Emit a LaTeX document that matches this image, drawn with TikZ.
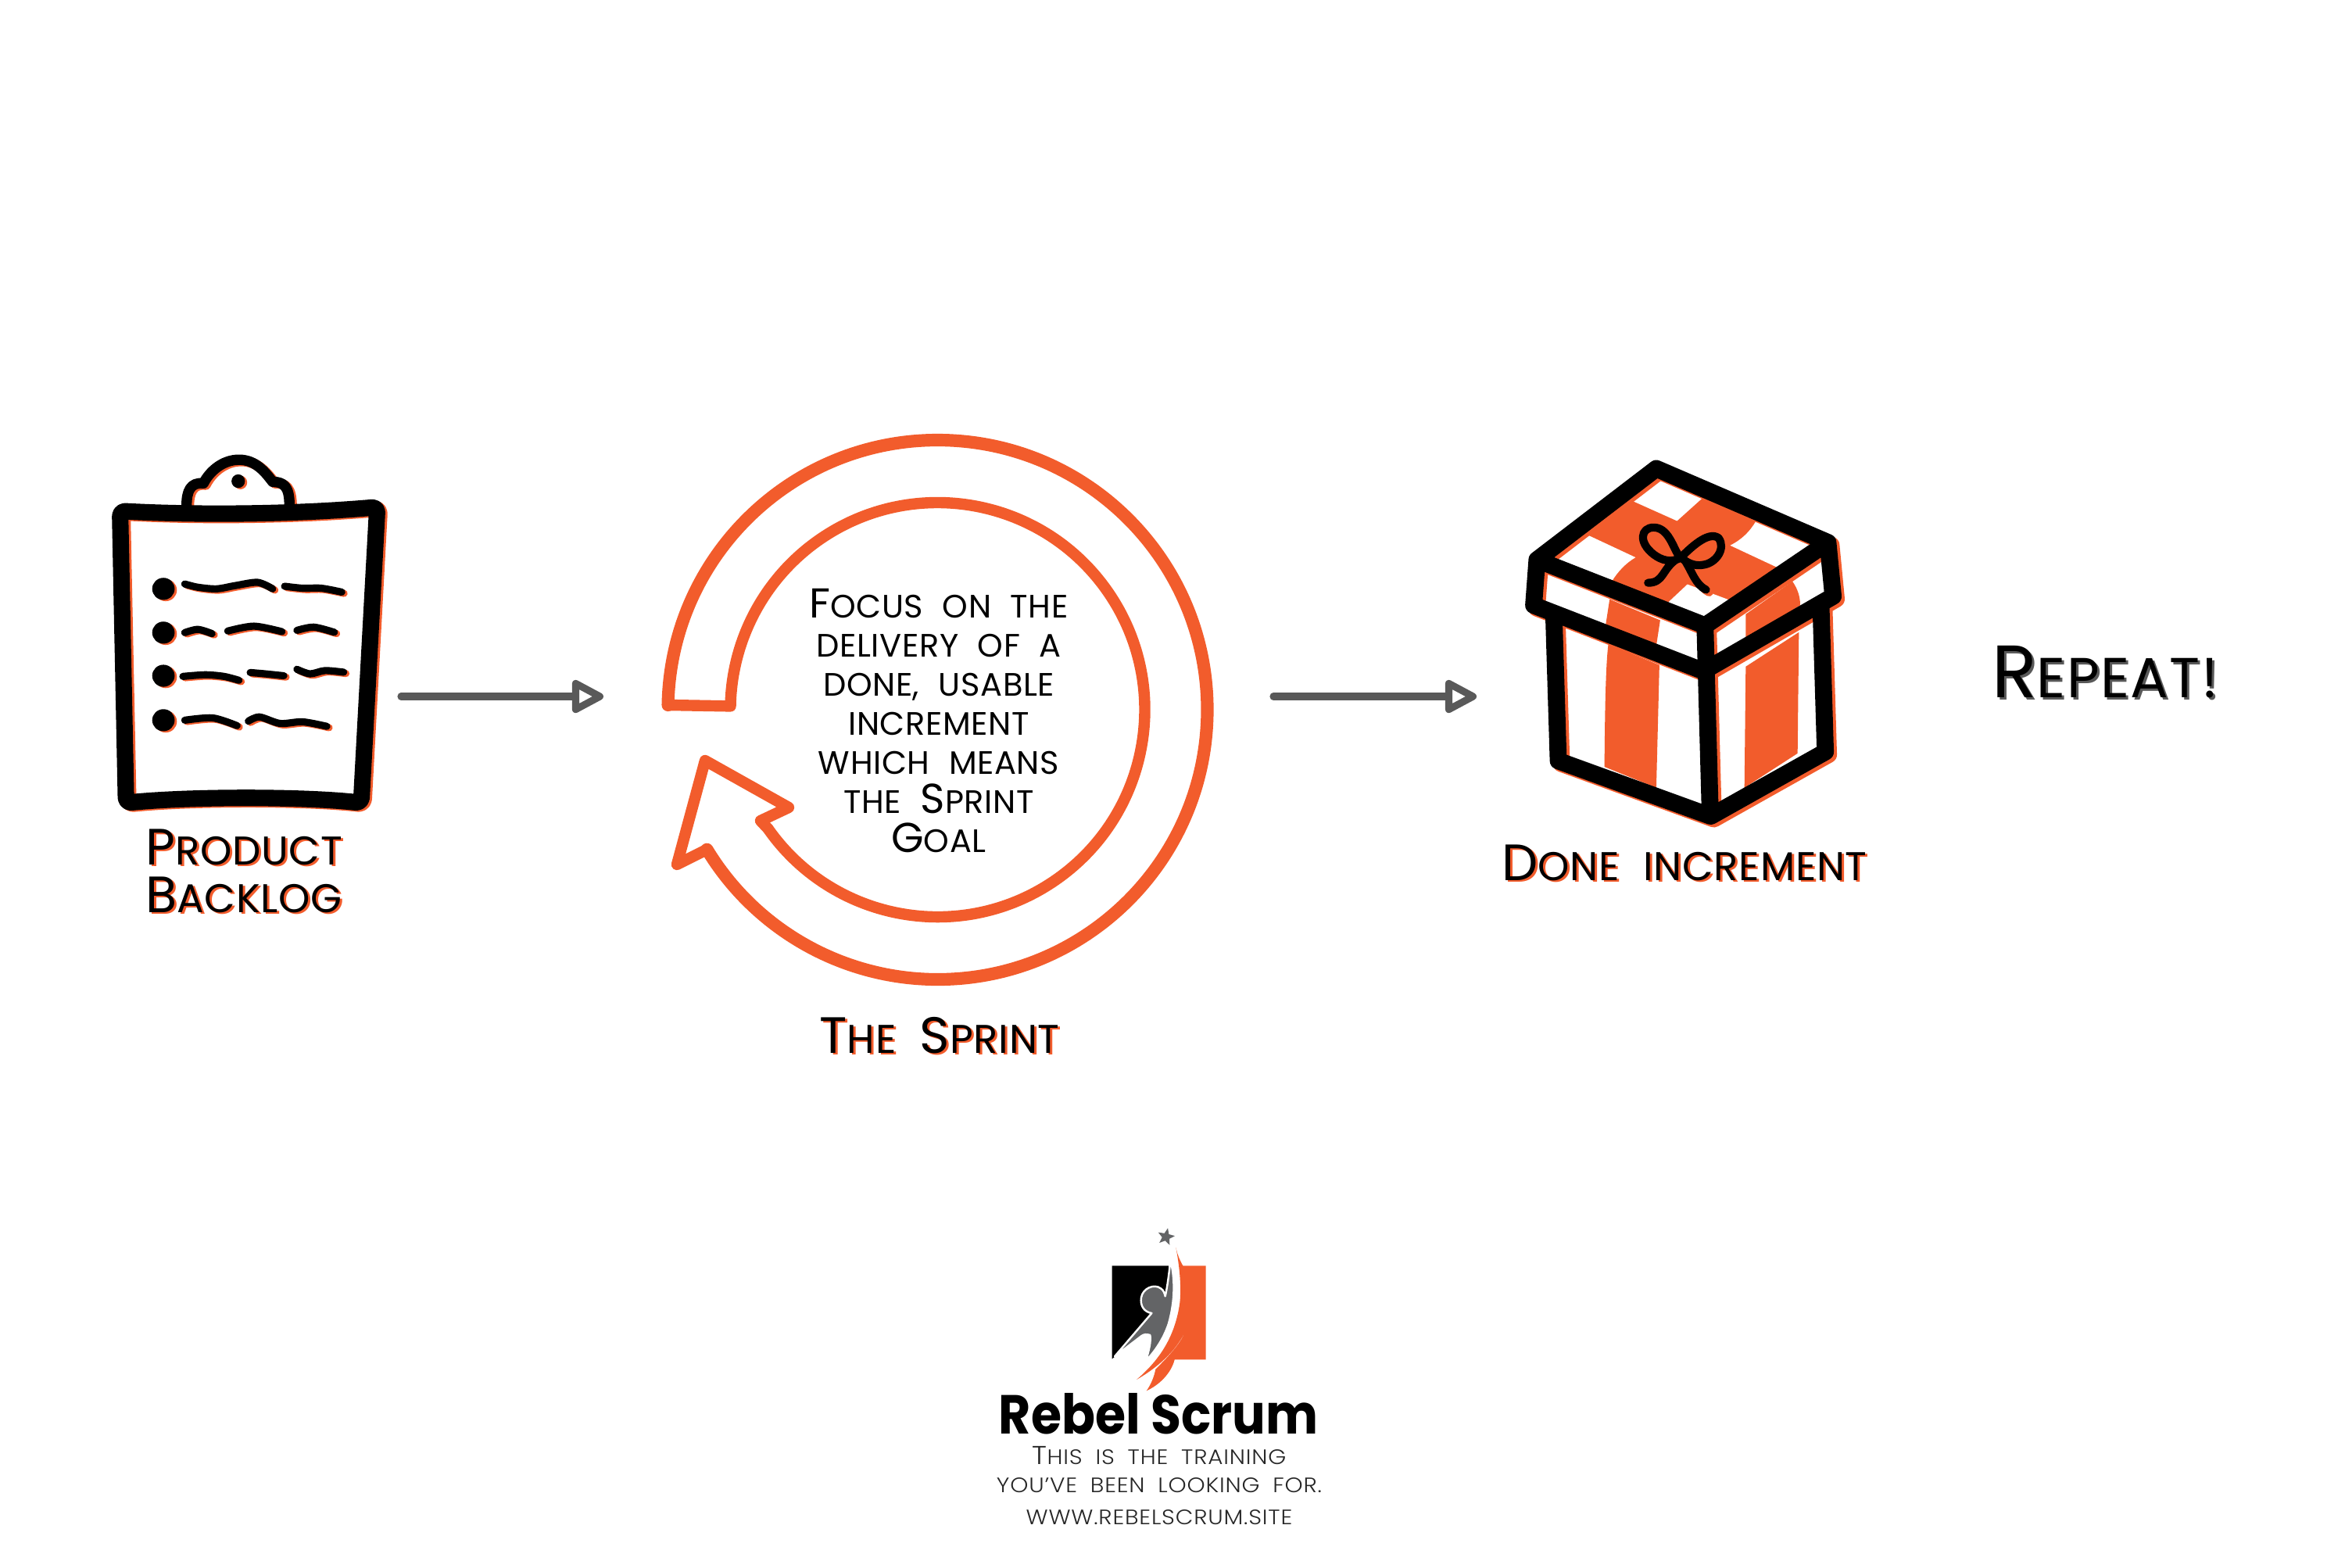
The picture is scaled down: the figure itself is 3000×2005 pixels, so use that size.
\documentclass[tikz,border=0pt]{standalone}
\usepackage{fontspec}
\usetikzlibrary{arrows.meta,shapes.geometric}
\setmainfont{Poppins}[WordSpace=2.1,LetterSpace=1.5]
\newfontfamily\tagfont{Poppins}[UprightFont=* Light,WordSpace=1.9,LetterSpace=3,FakeStretch=1.1]
\newfontfamily\brandfont{Poppins}[UprightFont=* Bold,FakeStretch=0.9]
\newfontfamily\repfont{Poppins}[LetterSpace=2]
\definecolor{rsorange}{HTML}{F25C2C}
\definecolor{rsgrey}{HTML}{595959}
\definecolor{rslogo}{HTML}{636466}
\newcommand\capF[1]{{\fontsize{15.2}{15.2}\selectfont #1}}
\newcommand\capL[1]{{\fontsize{18.6}{18.6}\selectfont #1}}
\newcommand\capR[1]{{\fontsize{27}{27}\selectfont #1}}
\newcommand\capS[1]{{\fontsize{9.4}{9.4}\selectfont #1}}
\tikzset{
  x=0.01cm,y=-0.01cm,
  flow/.style={draw=rsgrey,line width=2.6pt,line cap=round,-{Triangle[open,round,length=13pt,width=13pt,fill=white]}},
  sprintline/.style={draw=rsorange,line width=4.1pt,line join=round,line cap=round},
  ink/.style={line join=round,line cap=round},
  label/.style={inner sep=0pt,align=center,anchor=base,font=\fontsize{14.6}{17.3}\selectfont,text=black},
  labelshadow/.style={label,text=rsorange},
  body/.style={inner sep=0pt,align=center,anchor=base,font=\fontsize{11.8}{14.2}\selectfont,text=black},
  logotxt/.style={inner sep=0pt,align=center,anchor=base,font=\tagfont\fontsize{7.6}{7.6}\selectfont,text=black!85},
}
\newcommand\clipboardink[1]{%
  \draw[#1,ink,line width=6pt,rounded corners=2pt]
    (112,250) .. controls (300,262) and (560,262) .. (800,238)
    -- (757,1150) .. controls (600,1130) and (300,1130) .. (128,1150) -- cycle;
  \draw[#1,ink,line width=3.8pt]
    (290,232) .. controls (290,190) and (300,160) .. (335,165)
    .. controls (350,130) and (385,92) .. (430,92)
    .. controls (475,92) and (500,130) .. (520,160)
    .. controls (550,160) and (565,175) .. (565,232);
  \fill[#1] (428,158) circle[x radius=18,y radius=21];
  \foreach \yy in {490,625,758,895}{\fill[#1] (228,\yy) circle[x radius=30,y radius=34];}
  \draw[#1,ink,line width=2.6pt]
    plot[smooth] coordinates {(285,475)(320,485)(370,490)(420,480)(480,470)(520,490)}
    plot[smooth] coordinates {(552,482)(600,488)(650,488)(705,500)}
    plot[smooth] coordinates {(285,625)(320,615)(358,628)}
    plot[smooth] coordinates {(400,620)(470,605)(545,622)}
    plot[smooth] coordinates {(585,618)(630,608)(685,624)}
    plot[smooth] coordinates {(280,760)(340,755)(390,760)(430,772)}
    plot[smooth] coordinates {(460,748)(500,752)(550,758)}
    plot[smooth] coordinates {(585,738)(620,752)(660,742)(710,747)}
    plot[smooth] coordinates {(285,895)(360,888)(425,912)}
    plot[smooth] coordinates {(455,898)(485,885)(540,905)(600,900)(665,914)};
}
\newcommand\boxink[1]{%
  \draw[#1,ink,line width=6.2pt]
    (660,103) -- (1322,350) -- (848,628) -- (200,408) -- cycle
    (200,408) -- (187,560) -- (842,780) -- (1342,530) -- (1322,350)
    (848,628) -- (868,1262)
    (265,600) -- (282,1080) -- (870,1265) -- (1312,1050) -- (1295,560);
  \draw[#1,ink,line width=2.9pt]
    (755,400) .. controls (730,390) and (715,300) .. (650,300)
    .. controls (600,300) and (590,350) .. (650,390) .. controls (680,410) and (720,420) .. (755,400)
    .. controls (790,370) and (860,310) .. (900,335) .. controls (930,370) and (890,420) .. (840,425)
    .. controls (810,430) and (780,420) .. (755,400)
    (740,405) .. controls (680,440) and (690,485) .. (628,485)
    (770,410) .. controls (800,450) and (810,490) .. (852,508);
}
\begin{document}
\begin{tikzpicture}
\useasboundingbox (0,0) rectangle (3000,2005);
\fill[white] (0,0) rectangle (3000,2005);

% ---- clipboard
\begin{scope}[shift={(100,550)},xscale=1/2.09,yscale=1/2.41]
  \begin{scope}[shift={(6,4)}]\clipboardink{rsorange}\end{scope}
  \clipboardink{black}
\end{scope}
\node[labelshadow] (pbs) at (315,1169) {\capL{P}RODUCT\\\capL{B}ACKLOG};
\node[label] (pb) at (312,1167) {\capL{P}RODUCT\\\capL{B}ACKLOG};

% ---- sprint loop
\coordinate (sc) at (1199.5,908);
\draw[sprintline]
  (sc) ++(181:345) arc (181:508.8:345)
  -- (866,1106) -- (902,973) -- (1009,1033) -- (973,1050) -- (982.4,1060)
  arc (505:181:265) -- cycle;
\draw[draw=rsorange,line width=4.6pt,line cap=round] (sc) ++(181:345) arc (181:508.8:345);
\node[body] (focus) at (1201,1090) {\capF{F}OCUS ON THE\\DELIVERY OF A\\DONE, USABLE\\INCREMENT\\WHICH MEANS\\THE \capF{S}PRINT\\\capF{G}OAL};
\node[labelshadow] (sprints) at (1205,1349) {\capL{T}HE \capL{S}PRINT};
\node[label] (sprint) at (1202,1347) {\capL{T}HE \capL{S}PRINT};

% ---- gift box
\begin{scope}[shift={(1900,560)},xscale=1/3.015,yscale=1/2.613]
  \fill[rsorange] (660,103) -- (1322,350) -- (848,628) -- (200,408) -- cycle;
  \fill[white] (680,135) -- (840,200) -- (740,278) -- (570,212) -- cycle;
  \fill[white] (1045,278) -- (1265,355) -- (1130,435) -- (945,360) .. controls (990,340) and (1020,315) .. (1045,278) -- cycle;
  \fill[white] (395,325) -- (580,400) .. controls (540,420) and (510,450) .. (490,478) -- (250,395) -- cycle;
  \fill[white] (780,490) -- (950,545) -- (838,605) -- (700,555) -- cycle;
  \fill[rsorange] (480,540) -- (675,610) -- (660,695) -- (465,625) -- cycle;
  \fill[rsorange] (1005,590) -- (1185,480) .. controls (1205,505) and (1215,530) .. (1215,560) -- (1005,680) -- cycle;
  \fill[rsorange] (475,690) .. controls (465,760) and (462,900) .. (460,1100) -- (660,1170) -- (672,760) -- cycle;
  \fill[rsorange] (1005,765) -- (1210,650) -- (1205,1055) -- (1000,1170) -- cycle;
  \begin{scope}[shift={(12,9)}]\boxink{rsorange}\end{scope}
  \boxink{black}
\end{scope}
\node[labelshadow] (dis) at (2158,1128) {\capL{D}ONE INCREMENT};
\node[label] (di) at (2155,1126) {\capL{D}ONE INCREMENT};

\node[label,text=rsgrey,font=\repfont\fontsize{20.5}{20.5}\selectfont] (reps) at (2696,895) {\capR{R}EPEAT!};
\node[label,font=\repfont\fontsize{20.5}{20.5}\selectfont] (rep) at (2693,892) {\capR{R}EPEAT!};

% ---- connectors
\coordinate (a1s) at (513,891);
\coordinate (a1e) at (772,891);
\coordinate (a2s) at (1629,891);
\coordinate (a2e) at (1889,891);
\draw[flow] (a1s) -- (a1e);
\draw[flow] (a2s) -- (a2e);

% ---- logo
\begin{scope}[shift={(1250,1550)},scale=1/3]
  \fill[black] (518,208) -- (735,208) -- (745,330) -- (690,390) -- (530,556) -- (518,565) -- cycle;
  \fill[rsorange] (763,138) .. controls (770,170) and (780,190) .. (790,208) -- (878,208) -- (878,568) -- (758,568)
     .. controls (745,620) and (700,665) .. (650,688) .. controls (670,660) and (680,630) .. (685,605)
     .. controls (730,560) and (780,510) .. (800,458) .. controls (760,540) and (690,600) .. (612,645)
     .. controls (700,570) and (760,480) .. (778,350) .. controls (785,280) and (775,200) .. (763,138) -- cycle;
  \draw[fill=rslogo,draw=white,line width=0.7pt,line join=round]
    (742,185) .. controls (760,260) and (760,340) .. (735,430)
    .. controls (715,490) and (680,540) .. (648,572) .. controls (660,530) and (668,500) .. (664,474)
    .. controls (650,470) and (640,470) .. (630,478) -- (528,556) -- (670,390)
    .. controls (640,385) and (625,360) .. (630,330) .. controls (635,295) and (680,275) .. (705,295)
    .. controls (715,300) and (720,315) .. (722,325) .. controls (730,290) and (738,230) .. (742,185) -- cycle;
  \node[star,star points=5,star point ratio=2.3,fill=rslogo,inner sep=0pt,minimum size=6.5pt,rotate=-12] (st) at (725,97) {};
\end{scope}
\node[logotxt,font=\brandfont\fontsize{20}{20}\selectfont,text=black] (brand) at (1482,1834) {Rebel Scrum};
\node[logotxt] (tag1) at (1483,1873) {\capS{T}HIS IS THE TRAINING};
\node[logotxt] (tag2) at (1483,1909) {YOU’VE BEEN LOOKING FOR.};
\node[logotxt] (site) at (1483,1950) {WWW.REBELSCRUM.SITE};
\end{tikzpicture}
\end{document}
